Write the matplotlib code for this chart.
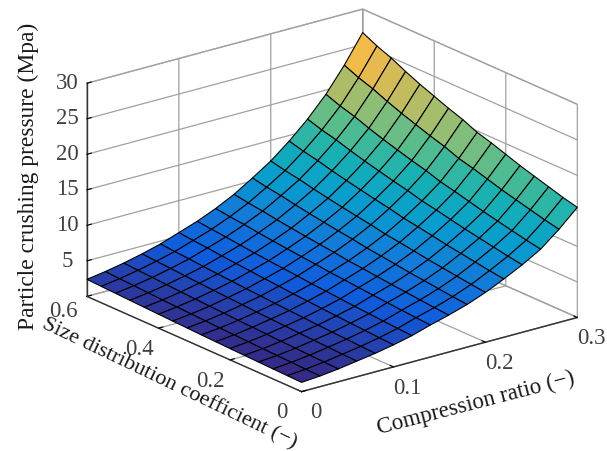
import numpy as np
import matplotlib
matplotlib.use("Agg")
import matplotlib.pyplot as plt
from matplotlib.colors import LinearSegmentedColormap, Normalize

plt.rcParams['font.family'] = ['Liberation Serif', 'DejaVu Serif']

compression_ratio = [0.0, 0.02, 0.04, 0.06, 0.08, 0.10, 0.12, 0.14, 0.16, 0.18, 0.20, 0.22, 0.24, 0.26, 0.28, 0.30]
size_coefficient = [0.0, 0.04, 0.08, 0.12, 0.16, 0.20, 0.24, 0.28, 0.32, 0.36, 0.40, 0.44, 0.48, 0.52, 0.56, 0.60]

# one row per size coefficient
crushing_pressure = [
    [1.30, 1.50, 1.80, 2.20, 2.60, 3.10, 3.70, 4.50, 5.20, 6.00, 7.00, 8.20, 9.50, 11.00, 13.10, 15.5],
    [1.35, 1.56, 1.87, 2.28, 2.69, 3.21, 3.82, 4.64, 5.36, 6.20, 7.23, 8.47, 9.82, 11.38, 13.54, 16.0],
    [1.41, 1.63, 1.95, 2.37, 2.80, 3.34, 3.96, 4.79, 5.55, 6.43, 7.50, 8.79, 10.20, 11.82, 14.05, 16.6],
    [1.47, 1.70, 2.03, 2.46, 2.90, 3.46, 4.11, 4.96, 5.75, 6.67, 7.78, 9.11, 10.58, 12.28, 14.57, 17.2],
    [1.53, 1.77, 2.11, 2.55, 3.01, 3.59, 4.25, 5.12, 5.94, 6.90, 8.05, 9.43, 10.96, 12.72, 15.09, 17.8],
    [1.59, 1.85, 2.20, 2.66, 3.14, 3.74, 4.42, 5.30, 6.16, 7.18, 8.37, 9.81, 11.40, 13.25, 15.70, 18.5],
    [1.66, 1.93, 2.30, 2.76, 3.26, 3.89, 4.59, 5.49, 6.39, 7.45, 8.68, 10.18, 11.84, 13.77, 16.30, 19.2],
    [1.72, 2.00, 2.38, 2.85, 3.37, 4.02, 4.74, 5.65, 6.58, 7.69, 8.96, 10.50, 12.23, 14.23, 16.82, 19.8],
    [1.81, 2.10, 2.50, 2.99, 3.53, 4.21, 4.95, 5.89, 6.87, 8.04, 9.37, 10.98, 12.79, 14.90, 17.60, 20.7],
    [1.88, 2.19, 2.59, 3.10, 3.65, 4.36, 5.12, 6.08, 7.10, 8.32, 9.69, 11.36, 13.24, 15.43, 18.21, 21.4],
    [1.96, 2.28, 2.70, 3.22, 3.80, 4.54, 5.31, 6.29, 7.35, 8.63, 10.05, 11.79, 13.75, 16.02, 18.90, 22.2],
    [2.04, 2.37, 2.81, 3.34, 3.94, 4.71, 5.51, 6.51, 7.61, 8.95, 10.42, 12.22, 14.26, 16.63, 19.60, 23.0],
    [2.13, 2.48, 2.93, 3.48, 4.10, 4.90, 5.73, 6.75, 7.90, 9.30, 10.83, 12.70, 14.83, 17.30, 20.38, 23.9],
    [2.22, 2.59, 3.06, 3.63, 4.28, 5.12, 5.97, 7.02, 8.22, 9.70, 11.28, 13.24, 15.46, 18.06, 21.25, 24.9],
    [2.30, 2.68, 3.17, 3.75, 4.42, 5.28, 6.16, 7.23, 8.48, 10.00, 11.64, 13.66, 15.96, 18.64, 21.93, 25.7],
    [2.40, 2.80, 3.30, 3.90, 4.60, 5.50, 6.40, 7.50, 8.80, 10.40, 12.10, 14.20, 16.60, 19.40, 22.80, 26.7],
]

x_ticks = [0, 0.1, 0.2, 0.3]
x_tick_labels = ['0', '0.1', '0.2', '0.3']
y_ticks = [0, 0.2, 0.4, 0.6]
y_tick_labels = ['0', '0.2', '0.4', '0.6']
z_ticks = [5, 10, 15, 20, 25, 30]
z_tick_labels = ['5', '10', '15', '20', '25', '30']

# parula, sampled
parula_stops = [
    (0.0, (0.2081, 0.1663, 0.5292)),
    (0.111, (0.0591, 0.3598, 0.8683)),
    (0.222, (0.0723, 0.4887, 0.8467)),
    (0.333, (0.0265, 0.6137, 0.8135)),
    (0.444, (0.0843, 0.6928, 0.7062)),
    (0.556, (0.3482, 0.7424, 0.5473)),
    (0.667, (0.6473, 0.7456, 0.4188)),
    (0.778, (0.8824, 0.7274, 0.3217)),
    (0.841, (0.9938, 0.7455, 0.2403)),
    (0.889, (0.9880, 0.8066, 0.1794)),
    (1.0, (0.9763, 0.9831, 0.0538)),
]
parula = LinearSegmentedColormap.from_list('parula', parula_stops)

X, Y = np.meshgrid(compression_ratio, size_coefficient)
Z = np.array(crushing_pressure)

W, H = 607, 452
side = 528
fig = plt.figure(figsize=(W / 100, H / 100), dpi=100)
ax = fig.add_axes([61 / W, -20.5 / H, side / W, side / H], projection='3d', proj_type='ortho')
ax.view_init(elev=20.2, azim=-127.9)
ax.set_box_aspect((1, 1, 0.65))

norm = Normalize(Z.min(), Z.max())
ax.plot_surface(X, Y, Z, rstride=1, cstride=1, facecolors=parula(norm(Z)), shade=False,
                edgecolor='black', linewidth=0.8, antialiased=True)

ax.set_xlim(0, 0.3, view_margin=0)
ax.set_ylim(0, 0.6, view_margin=0)
ax.set_zlim(0, 30, view_margin=0)

ax.set_xticks(x_ticks, labels=x_tick_labels, va='center')
ax.set_yticks(y_ticks, labels=y_tick_labels, va='center')
ax.set_zticks(z_ticks, labels=z_tick_labels, va='center')
ax.tick_params(labelsize=16.5, labelcolor='#404040', pad=0)
ax.tick_params(axis='x', pad=5)
ax.tick_params(axis='y', pad=6)

# the 0.6 label sits further out and higher than the rest of its axis
ax.yaxis.get_major_ticks()[3].set_pad(9)
ax.yaxis.get_ticklabels()[3].set_va('bottom')

# 3d axis labels cannot be nudged freely, so they sit in figure coordinates
fig.text(476 / W, 1 - 403 / H, 'Compression ratio (−)', fontsize=16.6, color='#1a1a1a',
         rotation=14.5, rotation_mode='anchor', ha='center', va='center')
fig.text(169 / W, 1 - 384 / H, 'Size distribution coefficient (−)', fontsize=16, color='#1a1a1a',
         rotation=-25.5, rotation_mode='anchor', ha='center', va='center')
fig.text(28 / W, 1 - 176 / H, 'Particle crushing pressure (Mpa)', fontsize=16.9, color='#1a1a1a',
         rotation=90, rotation_mode='anchor', ha='center', va='center')

for axis in (ax.xaxis, ax.yaxis, ax.zaxis):
    axis.set_pane_color((1, 1, 1, 1))
    axis.pane.set_edgecolor('#b8b8b8')
    axis.line.set_color('#333333')
    axis.line.set_linewidth(1.0)
    axis._axinfo['grid'].update(color='#a0a0a0', linewidth=0.9)
    axis._axinfo['tick'].update(inward_factor=0.0, outward_factor=0.2, linewidth={True: 0.8, False: 0.5})

fig.savefig('out.png', dpi=100)
